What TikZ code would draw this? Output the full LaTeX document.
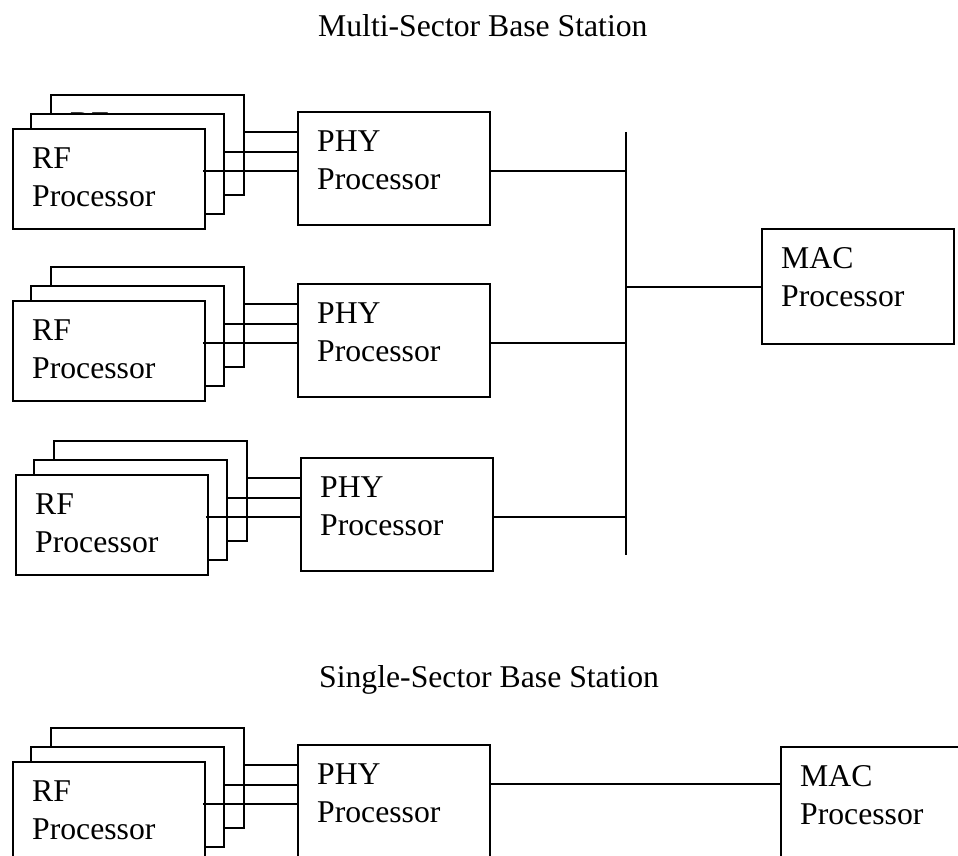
\documentclass[tikz,border=0pt]{standalone}
\usepackage{fontspec}
\setmainfont{Liberation Serif}
\usetikzlibrary{calc}

\tikzset{
  box/.style={draw, fill=white, line width=1.8pt, rectangle, inner sep=0pt, anchor=north west},
  txt/.style={inner sep=0pt, anchor=base west, font=\fontsize{31.7}{38}\selectfont},
  wire/.style={line width=1.8pt},
}

% a processor box with two lines of text set from its top-left corner
\newcommand{\procbox}[7]{%
  \node[box, minimum width=#4, minimum height=#5] (#1) at (#2,#3) {};
  \node[txt] (#1l1) at ($(#1.north west)+(20,40)$) {#6};
  \node[txt] (#1l2) at ($(#1.north west)+(20,78)$) {#7};
}
% a plain box (stacked card that shows no text)
\newcommand{\plainbox}[5]{%
  \node[box, minimum width=#4, minimum height=#5] (#1) at (#2,#3) {};
}

\begin{document}
\begin{tikzpicture}[x=1pt, y=-1pt]
  \useasboundingbox (0,0) rectangle (958,856);
  \clip (0,0) rectangle (958,856);

  % headings
  \node[txt] (title1) at (318,37) {Multi-Sector Base Station};
  \node[txt] (title2) at (319,687) {Single-Sector Base Station};

  % one sector: stacked RF cards wired to a PHY processor
  \foreach \g/\dx/\dy in {1/0/0, 2/0/172, 3/3/346, 4/0/633} {
    \procbox{rfc\g}{50+\dx}{94+\dy}{193}{100}{RF}{Processor}
    \plainbox{rfb\g}{30+\dx}{113+\dy}{193}{100}
    \procbox{rfa\g}{12+\dx}{128+\dy}{192}{100}{RF}{Processor}
    \procbox{phy\g}{297+\dx}{111+\dy}{192}{113}{PHY}{Processor}
    \coordinate (wc\g) at ($(rfc\g.north east)+(0,38)$);
    \coordinate (wb\g) at ($(rfb\g.north east)+(0,39)$);
    \coordinate (wa\g) at ($(rfa\g.north east)+(-3,43)$);
    \draw[wire] (wc\g) -- (wc\g -| phy\g.west);
    \draw[wire] (wb\g) -- (wb\g -| phy\g.west);
    \draw[wire] (wa\g) -- (wa\g -| phy\g.west);
  }

  % shared bus of the multi-sector station
  \coordinate (busT) at (626,132);
  \coordinate (busB) at (626,555);
  \draw[wire] (busT) -- (busB);
  \foreach \g in {1,2,3} {
    \coordinate (po\g) at ($(phy\g.north east)+(0,60)$);
    \draw[wire] (po\g) -- (po\g -| busT);
  }
  \procbox{mac1}{761}{228}{192}{115}{MAC}{Processor}
  \coordinate (mi1) at ($(mac1.north west)+(0,59)$);
  \draw[wire] (mi1) -- (mi1 -| busT);

  % single-sector station
  \procbox{mac4}{780}{746}{200}{130}{MAC}{Processor}
  \coordinate (po4) at ($(mac4.north west)+(0,38)$);
  \draw[wire] (po4) -- (po4 -| phy4.east);
\end{tikzpicture}
\end{document}
